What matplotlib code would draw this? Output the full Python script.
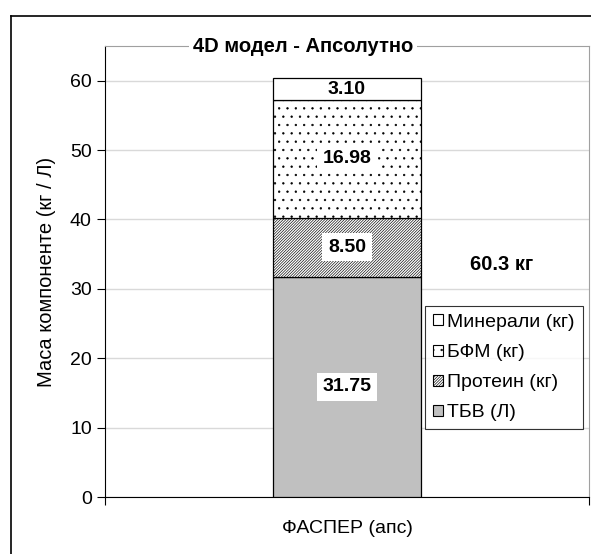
import matplotlib.pyplot as plt
from matplotlib.lines import Line2D
from matplotlib.patches import Patch

plt.rcParams['font.family'] = ['Liberation Sans', 'DejaVu Sans']
plt.rcParams['hatch.linewidth'] = 0.45

category = 'ФАСПЕР (апс)'
components = ['ТБВ (Л)', 'Протеин (кг)', 'БФМ (кг)', 'Минерали (кг)']
values = [31.75, 8.50, 16.98, 3.10]
colors = ['#c0c0c0', 'white', 'white', 'white']
hatches = [None, '/' * 12, '..', None]
total_label = '60.3 кг'

fig = plt.figure(figsize=(5.91, 5.54), dpi=100)
ax = fig.add_axes([105 / 591, 1 - 497 / 554, 484 / 591, 451 / 554])

bottom = 0
handles = []
for name, v, c, h in zip(components, values, colors, hatches):
    ax.bar(0, v, width=0.304, bottom=bottom, color=c, hatch=h,
           edgecolor='black', linewidth=0.9, zorder=3)
    box = dict(facecolor='white', edgecolor='none', pad=4) if v > 5 else None
    ax.text(0, bottom + v / 2, f'{v:.2f}', ha='center', va='center',
            fontsize=14, fontweight='bold', zorder=5, bbox=box)
    handles.append(Patch(facecolor=c, hatch=h, edgecolor='black', linewidth=0.8,
                         label=name))
    bottom += v

ax.set_xlim(-0.5, 0.5)
ax.set_ylim(0, 65)
ax.set_yticks(range(0, 61, 10))
ax.set_xticks([-0.5, 0.5])
ax.set_xticklabels(['', ''])
ax.tick_params(axis='both', direction='out', length=6, width=0.8, labelsize=14)
ax.yaxis.grid(True, color='#d9d9d9', linewidth=1, zorder=0)
ax.set_axisbelow(True)
for s in ['top', 'right']:
    ax.spines[s].set_color('#a0a0a0')
ax.spines['left'].set_color('black')
ax.spines['bottom'].set_color('black')

ax.set_ylabel('Маса компоненте (кг / Л)', fontsize=14.5, labelpad=10)
ax.set_xlabel(category, fontsize=14, labelpad=7)

ax.text(0.82, 0.515, total_label, transform=ax.transAxes, ha='center',
        va='center', fontsize=14.5, fontweight='bold')

leg = ax.legend(handles=handles[::-1], loc='upper left',
                bbox_to_anchor=(320 / 484, (497 - 306) / 451),
                fontsize=14, frameon=True, fancybox=False, edgecolor='black',
                handlelength=0.5, handleheight=0.5, handletextpad=0.25,
                labelspacing=0.68, borderpad=0.4, borderaxespad=0)
leg.get_frame().set_linewidth(0.8)

fig.text(303 / 591, 1 - 46 / 554, '4D модел - Апсолутно', ha='center',
         va='center', fontsize=14.5, fontweight='bold',
         bbox=dict(facecolor='white', edgecolor='none', pad=3))

# outer chart frame (left and top edges)
fig.add_artist(Line2D([11 / 591, 11 / 591], [0, 1 - 16 / 554], color='black',
                      linewidth=1.2, transform=fig.transFigure))
fig.add_artist(Line2D([11 / 591, 1], [1 - 16 / 554, 1 - 16 / 554], color='black',
                      linewidth=1.2, transform=fig.transFigure))

fig.savefig('out.png', dpi=100)
